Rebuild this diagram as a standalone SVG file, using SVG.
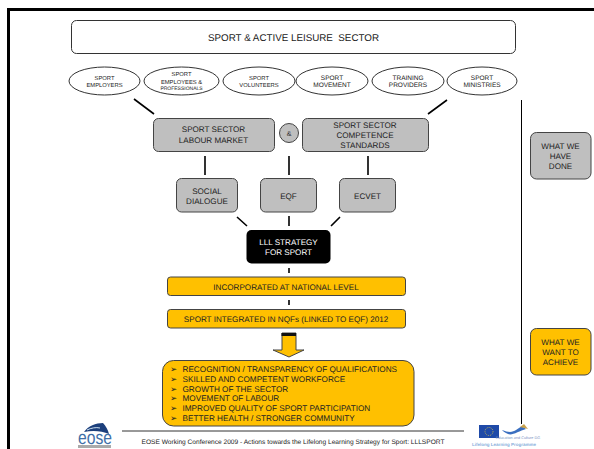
<svg xmlns="http://www.w3.org/2000/svg" width="594" height="449" viewBox="0 0 594 449">
<style>
text{font-family:"Liberation Sans",Arial,sans-serif;fill:#222;text-anchor:middle;text-rendering:geometricPrecision}
.w{fill:#fff;stroke:#333;stroke-width:1}
.g{fill:#bfbfbf;stroke:#444;stroke-width:1}
.o{fill:#ffc000;stroke:#444;stroke-width:1}
.c{stroke:#000;stroke-width:1.6;fill:none}
.s{font-size:5.800px}
.m{font-size:8.100px}
.b{font-size:8.200px;text-anchor:start}
.a{font-size:8.500px;text-anchor:start}
</style>
<rect width="594" height="449" fill="#fff"/>
<path d="M8.500 449V9.500H594" fill="none" stroke="#000" stroke-width="3"/>
<g id="connectors">
<path class="c" d="M134 99L154 114M447 100L428 114"/>
<path class="c" d="M205 156V175M289 156V175M368 156V175"/>
<path class="c" d="M237 217L247 226M289 216V226M340 217L331 226"/>
<path class="c" d="M289 268V273M289 300V305"/>
<path stroke="#000" stroke-width="1" d="M521.500 100V424"/>
<path stroke="#333" stroke-width="1" d="M122 431H464"/>
</g>
<g id="title"><rect class="w" x="71.500" y="20.500" width="444" height="33" rx="5"/><text x="293.500" y="41" style="font-size:9.800px;white-space:pre">SPORT &amp; ACTIVE LEISURE  SECTOR</text></g>
<g id="employers"><ellipse class="w" cx="104.500" cy="81" rx="35.500" ry="14"/><text class="s" x="104.500" y="79.500">SPORT</text><text class="s" x="104.500" y="87">EMPLOYERS</text></g>
<g id="employees"><ellipse class="w" cx="181.500" cy="81" rx="37.500" ry="14"/><text class="s" x="181.500" y="76">SPORT</text><text class="s" x="181.500" y="83.500">EMPLOYEES &amp;</text><text x="181.500" y="90" style="font-size:5px">PROFESSIONALS</text></g>
<g id="volunteers"><ellipse class="w" cx="259" cy="81" rx="36" ry="14"/><text class="s" x="259" y="79.500">SPORT</text><text class="s" x="259" y="87">VOLUNTEERS</text></g>
<g id="movement"><ellipse class="w" cx="332" cy="81" rx="36" ry="14"/><text class="m" style="font-size:6.500px" x="332" y="79.500">SPORT</text><text class="m" style="font-size:6.500px" x="332" y="87">MOVEMENT</text></g>
<g id="training"><ellipse class="w" cx="408" cy="81" rx="36" ry="14"/><text class="m" style="font-size:6.500px" x="408" y="79.500">TRAINING</text><text class="m" style="font-size:6.500px" x="408" y="87">PROVIDERS</text></g>
<g id="ministries"><ellipse class="w" cx="482" cy="81" rx="35" ry="14"/><text class="m" style="font-size:6.500px" x="482" y="79.500">SPORT</text><text class="m" style="font-size:6.500px" x="482" y="87">MINISTRIES</text></g>
<g id="labour"><rect class="g" x="153.500" y="118.500" width="121" height="33" rx="5"/><text class="m" x="213.500" y="132">SPORT SECTOR</text><text class="m" x="213.500" y="143">LABOUR MARKET</text></g>
<g id="amp"><circle class="g" cx="289" cy="133" r="9.500"/><text x="289" y="136" style="font-size:7px">&amp;</text></g>
<g id="competence"><rect class="g" x="302.500" y="118.500" width="126" height="33" rx="5"/><text class="m" x="365" y="128">SPORT SECTOR</text><text class="m" x="365" y="138">COMPETENCE</text><text class="m" x="365" y="148">STANDARDS</text></g>
<g id="social"><rect class="g" x="176.500" y="178.500" width="61" height="33.500" rx="5"/><text class="m" x="207" y="194">SOCIAL</text><text class="m" x="207" y="203.500">DIALOGUE</text></g>
<g id="eqf"><rect class="g" x="260.500" y="178.500" width="56" height="33.500" rx="5"/><text class="m" x="288.500" y="199">EQF</text></g>
<g id="ecvet"><rect class="g" x="339.500" y="178.500" width="56" height="33.500" rx="5"/><text class="m" x="367.500" y="199">ECVET</text></g>
<g id="lll"><rect x="246.500" y="230" width="84" height="33.500" rx="5" fill="#000"/><text class="m" x="288.500" y="245" style="fill:#fff">LLL STRATEGY</text><text class="m" x="288.500" y="255" style="fill:#fff">FOR SPORT</text></g>
<g id="national"><rect class="o" x="167.500" y="277" width="238" height="18.500" rx="3"/><text class="m" x="286" y="290">INCORPORATED AT NATIONAL LEVEL</text></g>
<g id="nqf"><rect class="o" x="167.500" y="309.500" width="238" height="18.500" rx="3"/><text class="m" x="286" y="321.500">SPORT INTEGRATED IN NQFs (LINKED TO EQF) 2012</text></g>
<g id="arrow"><path class="o" d="M282 333H296V350H304L289 357L273 350H282Z"/><rect x="281.500" y="333" width="14.500" height="3" fill="#111"/></g>
<g id="outcomes"><rect class="o" x="162.500" y="360.500" width="251.500" height="65.500" rx="11"/>
<text class="a" x="170" y="372">➢</text><text class="a" x="170" y="382">➢</text><text class="a" x="170" y="391.500">➢</text><text class="a" x="170" y="401">➢</text><text class="a" x="170" y="411">➢</text><text class="a" x="170" y="421">➢</text>
<text class="b" x="182.500" y="372">RECOGNITION / TRANSPARENCY OF QUALIFICATIONS</text>
<text class="b" x="182.500" y="382">SKILLED AND COMPETENT WORKFORCE</text>
<text class="b" x="182.500" y="391.500">GROWTH OF THE SECTOR</text>
<text class="b" x="182.500" y="401">MOVEMENT OF LABOUR</text>
<text class="b" x="182.500" y="411">IMPROVED QUALITY OF SPORT PARTICIPATION</text>
<text class="b" x="182.500" y="421">BETTER HEALTH / STRONGER COMMUNITY</text></g>
<g id="done"><rect class="g" x="530.500" y="132.500" width="60.500" height="46.500" rx="6"/><text class="m" x="560.500" y="149">WHAT WE</text><text class="m" x="560.500" y="159">HAVE</text><text class="m" x="560.500" y="169">DONE</text></g>
<g id="achieve"><rect class="o" x="530.500" y="328.500" width="60.500" height="46.500" rx="6"/><text class="m" x="560.500" y="345">WHAT WE</text><text class="m" x="560.500" y="354.500">WANT TO</text><text class="m" x="560.500" y="364.500">ACHIEVE</text></g>
<g id="footer"><text x="293" y="444" style="font-size:6.600px">EOSE Working Conference 2009 - Actions towards the Lifelong Learning Strategy for Sport: LLLSPORT</text></g>
<g id="eose-logo"><path d="M84 432C88 426 96 423 103 423C106 426 108 430 109 434C102 431 93 430 84 432Z" fill="#1c3f7c"/><path d="M87 430C91 428 96 427 100 428" stroke="#cfe3f2" fill="none"/><text x="95" y="444" textLength="34" lengthAdjust="spacingAndGlyphs" style="font-size:19px;fill:#3f6fa8">eose</text><rect x="78" y="445" width="33" height="3" fill="#aaa"/></g>
<g id="eu-logo"><rect x="479" y="425" width="20" height="13" fill="#1f4aa8"/><circle cx="489" cy="431.500" r="4" fill="none" stroke="#d8c34a" stroke-width=".8" stroke-dasharray="1 1"/><path d="M502 430C509 433 513 432 516 430L522 426L526 429C519 431 512 436 508 434C505 433 503 431 502 430Z" fill="#3a6fc0"/><path d="M520 427L524 424L528 429Z" fill="#c9a24e"/><text x="518" y="438.500" style="font-size:3.800px;fill:#7b93c4">Education and Culture DG</text><text x="504" y="445.500" style="font-size:4.500px;fill:#8ab0dc;font-weight:bold">Lifelong Learning Programme</text></g>
</svg>
